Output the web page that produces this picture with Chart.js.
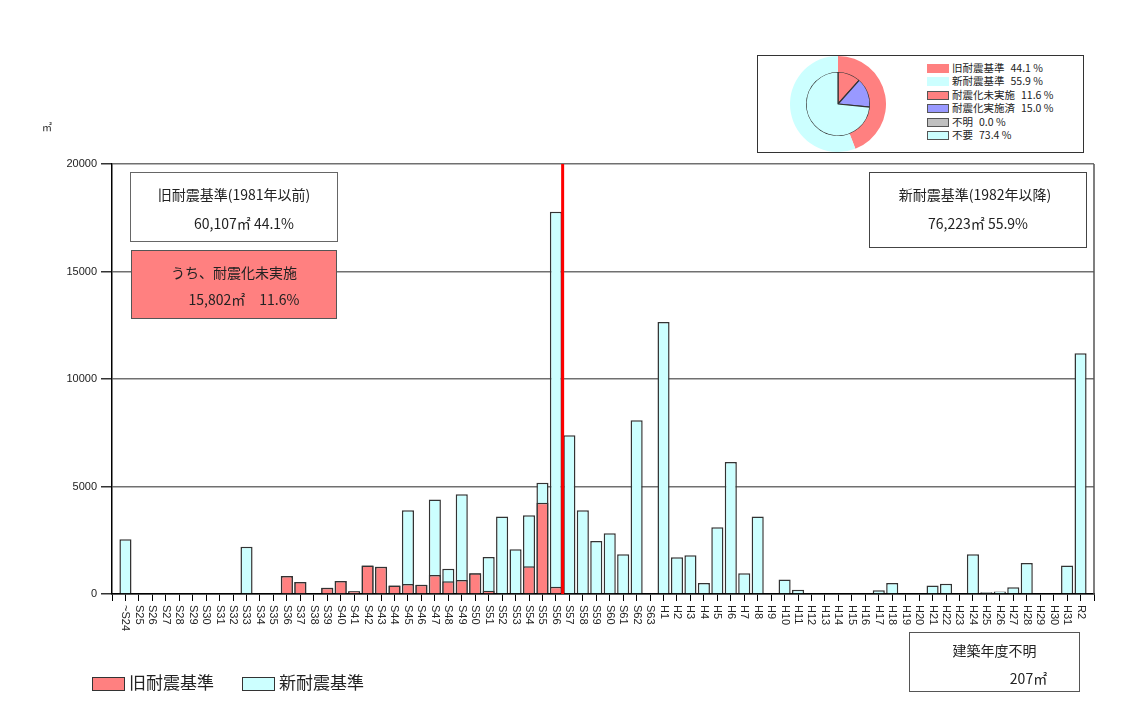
<!DOCTYPE html>
<html>
<head>
<meta charset="utf-8">
<script src="https://cdn.jsdelivr.net/npm/chart.js@4/dist/chart.umd.min.js"></script>
<style>
  body { margin: 0; background: #fff; }
  #wrap { position: relative; width: 1131px; height: 711px; overflow: hidden; font-family: "Noto Sans CJK JP", sans-serif; color: #222; }
  #main { position: absolute; left: 0; top: 0; }
  .box { position: absolute; box-sizing: border-box; border: 1px solid #555; background: #fff; }
  .box .ln { position: absolute; left: 0; width: 100%; text-align: center; font-size: 14px; line-height: 18px; height: 18px; white-space: nowrap; }
  #pieBox { position: absolute; left: 757px; top: 55px; width: 327px; height: 98px; box-sizing: border-box; border: 1px solid #333; background: #fff; }
  #pie { position: absolute; left: 790px; top: 56px; }
  #pieLegend { position: absolute; left: 927px; top: 61px; font-size: 10.5px; }
  #pieLegend .row { height: 13.45px; line-height: 13.45px; white-space: nowrap; }
  #pieLegend .sw { display: inline-block; width: 22px; height: 9px; box-sizing: border-box; vertical-align: -1px; margin-right: 3px; }
  #pieLegend .pct { margin-left: 6px; }
  .lg { position: absolute; font-size: 17px; line-height: 20px; white-space: nowrap; }
  .lgsw { position: absolute; width: 33px; height: 14px; box-sizing: border-box; border: 1px solid #333; }
  #unit { position: absolute; left: 42px; top: 119px; font-size: 10px; }
</style>
</head>
<body>
<div id="wrap">
  <canvas id="main" width="1131" height="711"></canvas>
  <div id="unit">㎡</div>

  <div class="box" style="left:130px;top:172px;width:208px;height:70px;border-color:#666;">
    <div class="ln" style="top:12px;">旧耐震基準(1981年以前)</div>
    <div class="ln" style="top:41px;left:10px;">60,107㎡ 44.1%</div>
  </div>
  <div class="box" style="left:131px;top:250px;width:206px;height:69px;background:#FF8080;border-color:#555;">
    <div class="ln" style="top:12px;">うち、耐震化未実施</div>
    <div class="ln" style="top:39px;left:10px;">15,802㎡　11.6%</div>
  </div>
  <div class="box" style="left:869px;top:172px;width:218px;height:76px;border-color:#444;">
    <div class="ln" style="top:12px;left:-3px;">新耐震基準(1982年以降)</div>
    <div class="ln" style="top:41px;">76,223㎡ 55.9%</div>
  </div>
  <div class="box" style="left:909px;top:632px;width:171px;height:60px;border-color:#555;">
    <div class="ln" style="top:8px;">建築年度不明</div>
    <div class="ln" style="top:36px;left:34px;">207㎡</div>
  </div>

  <div id="pieBox"></div>
  <canvas id="pie" width="96" height="96"></canvas>
  <div id="pieLegend"></div>

  <div class="lgsw" style="left:92px;top:677px;background:#FF8080;"></div>
  <div class="lg" style="left:129px;top:672px;">旧耐震基準</div>
  <div class="lgsw" style="left:242px;top:677px;background:#CCFFFF;"></div>
  <div class="lg" style="left:279px;top:672px;">新耐震基準</div>
</div>

<script>
// 建築年度
const years = [
  "~S24", "S25", "S26", "S27", "S28", "S29", "S30", "S31", "S32", "S33",
  "S34", "S35", "S36", "S37", "S38", "S39", "S40", "S41", "S42", "S43",
  "S44", "S45", "S46", "S47", "S48", "S49", "S50", "S51", "S52", "S53",
  "S54", "S55", "S56", "S57", "S58", "S59", "S60", "S61", "S62", "S63",
  "H1", "H2", "H3", "H4", "H5", "H6", "H7", "H8", "H9", "H10",
  "H11", "H12", "H13", "H14", "H15", "H16", "H17", "H18", "H19", "H20",
  "H21", "H22", "H23", "H24", "H25", "H26", "H27", "H28", "H29", "H30",
  "H31", "R2"
];

// 延床面積 (m2) 合計
const totalArea = [
  2550, 0, 0, 0, 0, 0, 0, 0, 0, 2200,
  0, 0, 840, 560, 0, 290, 600, 130, 1320, 1270,
  390, 3890, 430, 4400, 1180, 4640, 960, 1720, 3610, 2080,
  3660, 5180, 17780, 7380, 3890, 2470, 2820, 1850, 8080, 0,
  12650, 1710, 1800, 510, 3100, 6140, 960, 3610, 0, 680,
  200, 0, 0, 0, 0, 0, 170, 510, 0, 0,
  390, 480, 40, 1850, 80, 120, 310, 1440, 40, 0,
  1320, 11200
];

// うち耐震化未実施 (旧耐震基準)
const unretrofitted = [
  0, 0, 0, 0, 0, 0, 0, 0, 0, 0,
  0, 0, 840, 560, 0, 290, 600, 130, 1320, 1270,
  390, 470, 430, 880, 590, 650, 960, 150, 0, 30,
  1290, 4250, 340, 0, 0, 0, 0, 0, 0, 0,
  0, 0, 0, 0, 0, 0, 0, 0, 0, 0,
  0, 0, 0, 0, 0, 0, 0, 0, 0, 0,
  0, 0, 0, 0, 0, 0, 0, 0, 0, 0,
  0, 0
];

const yTicks = [0, 5000, 10000, 15000, 20000];
const lastOldYear = "S56"; // 1981年

// 円グラフ
const outerLabels = ["旧耐震基準", "新耐震基準"];
const outerPct = [44.1, 55.9];
const innerLabels = ["耐震化未実施", "耐震化実施済", "不明", "不要"];
const innerPct = [11.6, 15.0, 0.0, 73.4];

const RED = "#FF8080";
const CYAN = "#CCFFFF";
const outerColors = [RED, CYAN];
const innerColors = [RED, "#9999FF", "#C0C0C0", CYAN];

// 軸の両端に一目盛り分の余白
const axisLabels = [""].concat(years, [""]);
const pad = (arr) => [null].concat(arr, [null]);

const xLabelPlugin = {
  id: "xLabels",
  afterDraw(chart) {
    const ctx = chart.ctx;
    const xs = chart.scales.x;
    ctx.save();
    ctx.font = '11px "Liberation Sans Narrow", "Liberation Sans", Arial, sans-serif';
    ctx.fillStyle = "#222";
    ctx.textAlign = "left";
    ctx.textBaseline = "middle";
    axisLabels.forEach((lab, i) => {
      if (!lab) return;
      ctx.save();
      ctx.translate(xs.getPixelForTick(i), xs.bottom - xs.height + 11);
      ctx.rotate(Math.PI / 2);
      ctx.fillText(lab, 0, 0);
      ctx.restore();
    });
    ctx.restore();
  },
};

const dividerPlugin = {
  id: "divider",
  afterDatasetsDraw(chart) {
    const ctx = chart.ctx;
    const a = chart.chartArea;
    const xs = chart.scales.x;
    const x = xs.getPixelForValue(axisLabels.indexOf(lastOldYear) + 0.5);
    ctx.save();
    ctx.strokeStyle = "#555";
    ctx.lineWidth = 1.5;
    ctx.beginPath();
    ctx.moveTo(a.right, a.top);
    ctx.lineTo(a.right, a.bottom);
    ctx.stroke();
    ctx.strokeStyle = "#FF0000";
    ctx.lineWidth = 3;
    ctx.beginPath();
    ctx.moveTo(x, a.top);
    ctx.lineTo(x, a.bottom);
    ctx.stroke();
    ctx.restore();
  },
};

new Chart(document.getElementById("main"), {
  type: "bar",
  data: {
    labels: axisLabels,
    datasets: [
      {
        label: "旧耐震基準",
        data: pad(unretrofitted),
        backgroundColor: RED,
        borderColor: "#333",
        borderWidth: 1.5,
        grouped: false,
        order: 0,
        barPercentage: 0.9,
        categoryPercentage: 1,
      },
      {
        label: "新耐震基準",
        data: pad(totalArea),
        backgroundColor: CYAN,
        borderColor: "#333",
        borderWidth: 1.5,
        grouped: false,
        order: 1,
        barPercentage: 0.9,
        categoryPercentage: 1,
      },
    ],
  },
  options: {
    responsive: false,
    animation: false,
    layout: { padding: { top: 164, right: 37, left: 0, bottom: 0 } },
    plugins: { legend: { display: false }, tooltip: { enabled: false } },
    scales: {
      x: {
        offset: false,
        grid: { display: true, offset: false, drawOnChartArea: false, drawTicks: true, tickLength: 7, color: "#000" },
        border: { color: "#000", width: 1.5 },
        ticks: { display: false },
        afterFit(s) { s.height = 117; },
      },
      y: {
        min: yTicks[0],
        max: yTicks[yTicks.length - 1],
        afterBuildTicks(s) { s.ticks = yTicks.map((v) => ({ value: v })); },
        grid: { color: "#707070", lineWidth: 1.5, tickLength: 11, tickColor: "#333" },
        border: { color: "#000", width: 1.5 },
        ticks: {
          padding: 4,
          color: "#222",
          font: { size: 11, family: '"Liberation Sans", Arial, sans-serif' },
          callback: (v) => String(v),
        },
        afterFit(s) { s.width = 112; },
      },
    },
  },
  plugins: [xLabelPlugin, dividerPlugin],
});

new Chart(document.getElementById("pie"), {
  type: "doughnut",
  data: {
    labels: outerLabels.concat(innerLabels),
    datasets: [
      { data: outerPct, backgroundColor: outerColors, borderWidth: 0, weight: 1 },
      { data: innerPct, backgroundColor: innerColors, borderColor: "#333", borderWidth: 1.2, weight: 2 },
    ],
  },
  options: {
    responsive: false,
    animation: false,
    cutout: 0,
    plugins: { legend: { display: false }, tooltip: { enabled: false } },
  },
});

// 円グラフ凡例
const legendEl = document.getElementById("pieLegend");
const rows = [];
outerLabels.forEach((l, i) => rows.push({ l, p: outerPct[i], c: outerColors[i], b: false }));
innerLabels.forEach((l, i) => rows.push({ l, p: innerPct[i], c: innerColors[i], b: true }));
rows.forEach((r) => {
  const d = document.createElement("div");
  d.className = "row";
  const sw = document.createElement("span");
  sw.className = "sw";
  sw.style.background = r.c;
  if (r.b) sw.style.border = "1px solid #555";
  d.appendChild(sw);
  d.appendChild(document.createTextNode(r.l));
  const p = document.createElement("span");
  p.className = "pct";
  p.textContent = r.p.toFixed(1) + " %";
  d.appendChild(p);
  legendEl.appendChild(d);
});
</script>
</body>
</html>
